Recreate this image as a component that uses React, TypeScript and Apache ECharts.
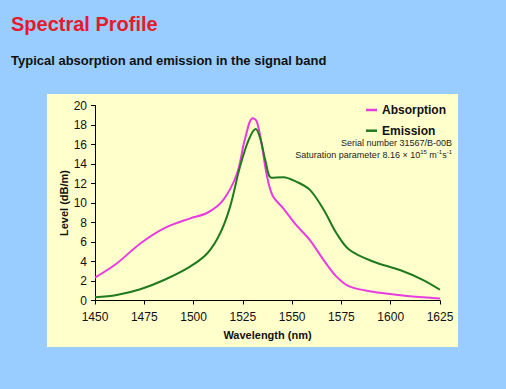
import React, { useEffect, useRef } from "react";
import * as echarts from "echarts";

const xTicks = [1450, 1475, 1500, 1525, 1550, 1575, 1600, 1625];

const absorptionWl = [1450, 1461, 1473, 1485, 1498, 1507, 1515, 1522, 1526, 1530, 1532, 1534.5, 1537, 1540, 1545.5, 1552, 1559, 1566, 1572.5, 1579, 1591, 1605, 1616.5, 1625];
const absorptionVal = [2.35, 3.8, 5.85, 7.4, 8.4, 9.0, 10.3, 13.0, 16.5, 18.7, 18.4, 16.1, 13.0, 10.8, 9.45, 7.75, 6.2, 4.15, 2.45, 1.45, 0.9, 0.55, 0.33, 0.2];

const emissionWl = [1450, 1461, 1473, 1485, 1498, 1507, 1513.5, 1518.5, 1523.5, 1528, 1531.5, 1534, 1536.5, 1539.5, 1545.5, 1552, 1559, 1566, 1572.5, 1579, 1591, 1605, 1616.5, 1625];
const emissionVal = [0.33, 0.56, 1.15, 2.1, 3.45, 4.85, 6.9, 9.6, 13.7, 16.5, 17.6, 16.5, 14.3, 12.6, 12.65, 12.2, 11.35, 9.3, 6.9, 5.2, 4.0, 3.1, 2.1, 1.1];

const seriesNames = ["Absorption", "Emission"];
const titleText = "Spectral Profile";
const subtitleText = "Typical absorption and emission in the signal band";
const noteLine1 = "Serial number 31567/B-00B";

const FONT = "Arial, 'Liberation Sans', sans-serif";

export default function App() {
  const ref = useRef<HTMLDivElement>(null);
  useEffect(() => {
    if (!ref.current) return;
    const chart = echarts.init(ref.current, undefined, { renderer: "svg" });
    const absData = absorptionWl.map((w, i) => [w, absorptionVal[i]]);
    const emiData = emissionWl.map((w, i) => [w, emissionVal[i]]);
    chart.setOption({
      animation: false,
      backgroundColor: "#99CCFF",
      textStyle: { fontFamily: FONT },
      grid: { left: 95, right: 66, top: 105.5, bottom: 88.5 },
      xAxis: {
        type: "value",
        min: xTicks[0],
        max: xTicks[xTicks.length - 1],
        interval: 25,
        name: "Wavelength (nm)",
        nameLocation: "middle",
        nameGap: 29,
        nameMoveOverlap: false,
        nameTextStyle: { color: "#111", fontSize: 11, fontWeight: "bold", fontFamily: FONT },
        axisLine: { lineStyle: { color: "#000", width: 1 } },
        axisTick: { show: true, length: 4, lineStyle: { color: "#000" } },
        axisLabel: { color: "#111", fontSize: 12, margin: 10, fontFamily: FONT, formatter: (v: number) => String(v) },
        splitLine: { show: false },
      },
      yAxis: {
        type: "value",
        min: 0,
        max: 20,
        interval: 2,
        name: "Level (dB/m)",
        nameLocation: "middle",
        nameRotate: 90,
        nameGap: 26,
        nameMoveOverlap: false,
        nameTextStyle: { color: "#111", fontSize: 11, fontWeight: "bold", fontFamily: FONT },
        axisLine: { show: true, lineStyle: { color: "#000", width: 1 } },
        axisTick: { show: true, length: 4, lineStyle: { color: "#000" } },
        axisLabel: { color: "#111", fontSize: 12, margin: 8, fontFamily: FONT },
        splitLine: { show: false },
      },
      legend: {
        orient: "vertical",
        left: 366,
        top: 103,
        padding: 0,
        itemGap: 6.7,
        itemWidth: 11,
        itemHeight: 2.5,
        icon: "rect",
        textStyle: { color: "#111", fontSize: 12, fontWeight: "bold", lineHeight: 14, fontFamily: FONT, padding: [0, 0, 0, 0] },
        data: seriesNames,
      },
      graphic: [
        {
          type: "rect",
          z: -10,
          silent: true,
          shape: { x: 47, y: 94, width: 411, height: 253 },
          style: { fill: "#FFFFCC" },
        },
        {
          type: "text",
          x: 11,
          y: 24,
          style: { text: titleText, fill: "#E41B2C", font: `bold 20px ${FONT}`, verticalAlign: "middle" },
        },
        {
          type: "text",
          x: 11,
          y: 60.5,
          style: { text: subtitleText, fill: "#111", font: `bold 13px ${FONT}`, verticalAlign: "middle" },
        },
        {
          type: "text",
          x: 452,
          y: 143,
          style: { text: noteLine1, fill: "#222", font: `9px ${FONT}`, align: "right", verticalAlign: "middle" },
        },
        {
          type: "text",
          x: 452,
          y: 155,
          style: {
            text: "Saturation parameter 8.16 × 10{sup|15} m{sup|-1}s{sup|-1}",
            fill: "#222",
            font: `9px ${FONT}`,
            fontSize: 9,
            lineHeight: 12,
            align: "right",
            verticalAlign: "middle",
            rich: {
              sup: { fontSize: 6, lineHeight: 6, verticalAlign: "top", fill: "#222", fontFamily: FONT },
            },
          },
        },
      ],
      series: [
        {
          name: seriesNames[0],
          type: "line",
          data: absData,
          smooth: 0.35,
          showSymbol: false,
          symbol: "none",
          lineStyle: { color: "#E83CE0", width: 2 },
          itemStyle: { color: "#E83CE0" },
        },
        {
          name: seriesNames[1],
          type: "line",
          data: emiData,
          smooth: 0.35,
          showSymbol: false,
          symbol: "none",
          lineStyle: { color: "#1F7A1F", width: 2 },
          itemStyle: { color: "#1F7A1F" },
        },
      ],
    });
    return () => chart.dispose();
  }, []);
  return (
    <div style={{ position: "fixed", left: 0, top: 0, width: 506, height: 389 }}>
      <div ref={ref} style={{ width: 506, height: 389 }} />
    </div>
  );
}
